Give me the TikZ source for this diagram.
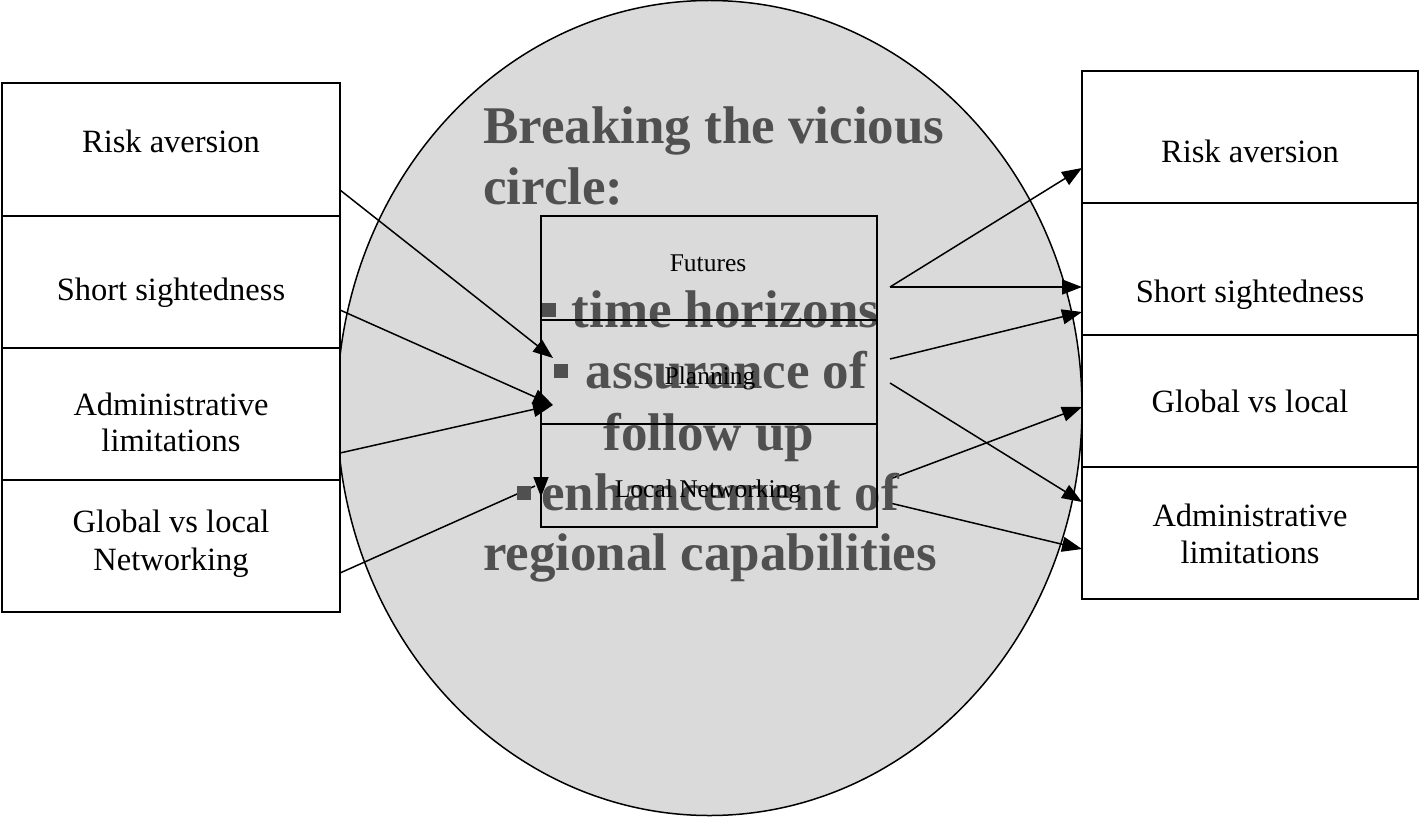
\documentclass[tikz,border=0pt]{standalone}
\usepackage{fontspec}
\setmainfont{Liberation Serif}
\usetikzlibrary{arrows.meta,shapes.geometric}
\definecolor{txtgray}{RGB}{80,80,80}
\definecolor{ellfill}{RGB}{218,218,218}
\begin{document}
\begin{tikzpicture}[x=1bp,y=-1bp,
  sidebox/.style={draw, line width=2bp, fill=white, minimum height=132bp, inner sep=0pt},
  lbox/.style={sidebox, minimum width=338bp},
  rbox/.style={sidebox, minimum width=336bp},
  cbox/.style={draw, line width=2bp, minimum width=336bp, inner sep=0pt},
  lbl/.style={font=\fontsize{32.5bp}{36bp}\selectfont, inner sep=0pt, anchor=base},
  small/.style={font=\fontsize{25.5bp}{28bp}\selectfont, inner sep=0pt, anchor=base},
  big/.style={font=\fontsize{53bp}{60bp}\selectfont\bfseries, text=txtgray, inner sep=0pt, anchor=base},
  bul/.style={fill=txtgray, minimum size=14bp, inner sep=0pt},
  conn/.style={line width=1.5bp},
  arr/.style={conn, -{Triangle[length=20bp,width=15bp]}}
]
\useasboundingbox (0,0) rectangle (1419,816);

% ellipse
\node[ellipse, draw, line width=1.5bp, fill=ellfill, minimum width=745bp, minimum height=815bp, inner sep=0pt] (E) at (709.5,408) {};

% left boxes
\node[lbox] (L1) at (171,149.5) {};
\node[lbox] (L2) at (171,281.5) {};
\node[lbox] (L3) at (171,414) {};
\node[lbox] (L4) at (171,545.5) {};
\node[lbl] (L1t) at (171,152.5) {Risk aversion};
\node[lbl] (L2t) at (171,300) {Short sightedness};
\node[lbl] (L3t) at (171,415.6) {Administrative};
\node[lbl] (L3u) at (171,451.8) {limitations};
\node[lbl] (L4t) at (171,532.5) {Global vs local};
\node[lbl] (L4u) at (171,570) {Networking};

% right boxes
\node[rbox] (R1) at (1250,137) {};
\node[rbox] (R2) at (1250,269) {};
\node[rbox] (R3) at (1250,401) {};
\node[rbox] (R4) at (1250,533) {};
\node[lbl] (R1t) at (1250,162.5) {Risk aversion};
\node[lbl] (R2t) at (1250,302.8) {Short sightedness};
\node[lbl] (R3t) at (1250,412.6) {Global vs local};
\node[lbl] (R4t) at (1250,526) {Administrative};
\node[lbl] (R4u) at (1250,563.5) {limitations};

% connector end points
\coordinate (s1) at (340,190);
\coordinate (s2) at (340,310);
\coordinate (s3) at (340,453);
\coordinate (s4) at (340,573);
\coordinate (t1) at (553,358);
\coordinate (t2) at (553,405);
\coordinate (k4) at (535,486);
\coordinate (k4a) at (541,478);
\coordinate (t4) at (541,497);
\coordinate (f1) at (890,287);
\coordinate (f2) at (890,359);
\coordinate (f3) at (890,383);
\coordinate (f4) at (890,479);
\coordinate (f5) at (890,503);
\coordinate (u1) at (1082,168);
\coordinate (u2) at (1082,287);
\coordinate (u3) at (1082,312);
\coordinate (u4) at (1082,502);
\coordinate (u5) at (1082,407);
\coordinate (u6) at (1082,549);

% left connectors
\draw[arr] (s1) -- (t1);
\draw[arr] (s2) -- (t2);
\draw[arr] (s3) -- (t2);
\draw[conn] (s4) -- (k4);
\draw[arr] (k4a) -- (t4);

% right connectors
\draw[arr] (f1) -- (u1);
\draw[arr] (f1) -- (u2);
\draw[arr] (f2) -- (u3);
\draw[arr] (f3) -- (u4);
\draw[arr] (f4) -- (u5);
\draw[arr] (f5) -- (u6);

% big text
\node[big, anchor=base west] (T1) at (483,143) {Breaking the vicious};
\node[big, anchor=base west] (T2) at (483,204) {circle:};
\node[bul] (b1) at (548.5,310) {};
\node[big] (B1) at (725.5,327) {time horizons};
\node[bul] (b2) at (560.5,370.5) {};
\node[big] (B2) at (726.5,388) {assurance of};
\node[big] (B3) at (709,450) {follow up};
\node[bul] (b3) at (523.5,493) {};
\node[big] (B4) at (720,510) {enhancement of};
\node[big] (B5) at (710,570) {regional capabilities};

% center boxes
\node[cbox, minimum height=104bp] (C1) at (709,268) {};
\node[cbox, minimum height=104bp] (C2) at (709,372) {};
\node[cbox, minimum height=103bp] (C3) at (709,475.5) {};
\node[small] (C1t) at (708,271.5) {Futures};
\node[small] (C2t) at (710,384) {Planning};
\node[small] (C3t) at (708,497) {Local Networking};
\end{tikzpicture}
\end{document}
